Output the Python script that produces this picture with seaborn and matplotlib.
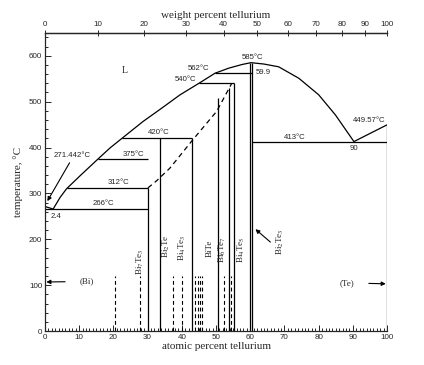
import numpy as np
import pandas as pd
import matplotlib
matplotlib.use("Agg")
import matplotlib.pyplot as plt
from matplotlib.ticker import MultipleLocator
import seaborn as sns

# ---------------- data ----------------
# liquidus (atomic % Te, temperature in degC)
liq_x = [0, 2.4, 4.4, 6.3, 10.2, 15.5, 19.0, 22.5, 28.7, 33.6, 39.5, 45.0,
         49.7, 53.7, 57.6, 60.2, 64.0, 68.3, 74.2, 80.0, 84.9, 90.3, 100]
liq_t = [271.442, 266, 291, 310, 338, 375, 399, 420, 457, 483, 515, 540,
         562, 573, 581, 585, 582, 576, 551, 515, 471, 413, 449.57]

# invariant (horizontal) lines
iso_t = [266, 312, 375, 420, 540, 562, 413]
iso_x0 = [0, 6.3, 15.5, 22.5, 45.0, 49.7, 60.6]
iso_x1 = [30.1, 30.1, 30.1, 42.9, 55.3, 60.6, 100]

# compound (vertical) lines
comp_x = [30.1, 33.5, 42.9, 50.5, 53.8, 55.3, 59.9, 60.6, 100]
comp_top = [312, 420, 420, 507, 529, 540, 585, 585, 449.57]

# dashed boundary
dash_x = [30.1, 32.7, 36.5, 43.0, 50.2, 54.6]
dash_t = [312, 328, 355, 415, 479, 540]

# short dashed marks
mark_x = [20.5, 27.8, 37.5, 40.1, 44.0, 44.6, 45.3, 46.0, 52.2, 54.4]
mark_top = 120

# compound labels
comp_labels = [r"Bi$_7$Te$_3$", r"Bi$_2$Te", r"Bi$_4$Te$_3$", "BiTe",
               r"Bi$_6$Te$_7$", r"Bi$_4$Te$_5$", r"Bi$_2$Te$_3$"]
comp_lab_x = [27.8, 35.4, 40.2, 48.2, 51.8, 57.5, 68.8]
comp_lab_t = [152, 184, 182, 180, 177, 178, 195]

# temperature annotations
ann_text = ["L", "562°C", "540°C", "585°C", "59.9", "420°C", "375°C",
            "271.442°C", "312°C", "266°C", "2.4", "413°C", "90", "449.57°C"]
ann_x = [23.4, 45.0, 41.1, 60.8, 63.9, 33.2, 25.9, 7.9, 21.4, 17.2, 3.2,
         73.0, 90.4, 94.7]
ann_t = [569, 572, 548, 596, 564, 432, 385, 383, 324, 277, 249, 422, 399, 459]

wt_ticks = [0, 10, 20, 30, 40, 50, 60, 70, 80, 90, 100]

# ---------------- figure ----------------
sns.set_style("ticks")
plt.rcParams["font.family"] = ["Liberation Sans", "DejaVu Sans"]
plt.rcParams["mathtext.fontset"] = "stix"

fig = plt.figure(figsize=(4.24, 3.65), dpi=100)
ax = fig.add_axes([0.106, 0.093, 0.807, 0.817])
lw = 0.9
k = "black"

liq = pd.DataFrame({"x": liq_x, "t": liq_t})
sns.lineplot(data=liq, x="x", y="t", sort=False, ax=ax, color=k, lw=lw)

ax.hlines(iso_t, iso_x0, iso_x1, color=k, lw=lw)
ax.vlines(comp_x, 0, comp_top, color=k, lw=lw)
ax.plot(dash_x, dash_t, color=k, lw=lw, ls=(0, (4, 3)))
ax.vlines(mark_x, 0, mark_top, color=k, lw=0.8, ls=(0, (3.5, 2.5)))

serif = ["Liberation Serif", "DejaVu Serif"]
for s, x, t in zip(comp_labels, comp_lab_x, comp_lab_t):
    ax.text(x, t, s, rotation=90, ha="center", va="center", fontsize=6.5,
            family=serif)

for s, x, t in zip(ann_text, ann_x, ann_t):
    if s == "L":
        ax.text(x, t, s, ha="center", va="center", fontsize=7, family=serif)
    else:
        ax.text(x, t, s, ha="center", va="center", fontsize=5.6)

# arrows
ap = dict(arrowstyle="-|>", color=k, lw=0.8, mutation_scale=6)
ax.annotate("", xy=(0.3, 278), xytext=(7.6, 372), arrowprops=ap)
ax.annotate("(Bi)", xy=(0.4, 107), xytext=(12.2, 108), ha="center",
            va="center", fontsize=6.5, family=serif,
            arrowprops=dict(ap, shrinkA=8, shrinkB=0))
ax.annotate("(Te)", xy=(99.6, 103), xytext=(88.3, 105), ha="center",
            va="center", fontsize=6.5, family=serif,
            arrowprops=dict(ap, shrinkA=8, shrinkB=0))
ax.annotate("", xy=(60.9, 226), xytext=(66.5, 190), arrowprops=ap)

ax.set_xlim(0, 100)
ax.set_ylim(0, 650)
ax.set_xticks(range(0, 101, 10))
ax.xaxis.set_minor_locator(MultipleLocator(1))
ax.set_yticks(range(0, 601, 100))
ax.yaxis.set_minor_locator(MultipleLocator(20))
ax.tick_params(which="both", direction="in", top=False, right=False,
               labelsize=5.8, width=0.7, pad=2)
ax.tick_params(which="major", length=4)
ax.tick_params(which="minor", length=2)
ax.spines["right"].set_visible(False)
for s in ["left", "bottom", "top"]:
    ax.spines[s].set_linewidth(0.9)
ax.set_xlabel("atomic percent tellurium", family=serif, fontsize=8, labelpad=1)
ax.set_ylabel("temperature, °C", family=serif, fontsize=8, labelpad=4)

# top axis: weight percent
def wt_to_at(w):
    w = np.asarray(w, dtype=float)
    a = w / 127.6
    b = (100 - w) / 208.98
    return 100 * a / (a + b)

ax2 = ax.twiny()
ax2.set_xlim(0, 100)
ax2.set_xticks(wt_to_at(wt_ticks))
ax2.set_xticklabels([str(w) for w in wt_ticks])
ax2.tick_params(direction="inout", length=5, width=0.7, labelsize=5.8, pad=1)
for s in ["right", "left", "bottom"]:
    ax2.spines[s].set_visible(False)
ax2.spines["top"].set_linewidth(0.9)
ax2.set_xlabel("weight percent tellurium", family=serif, fontsize=8, labelpad=2)

fig.savefig("out.png", dpi=100)
